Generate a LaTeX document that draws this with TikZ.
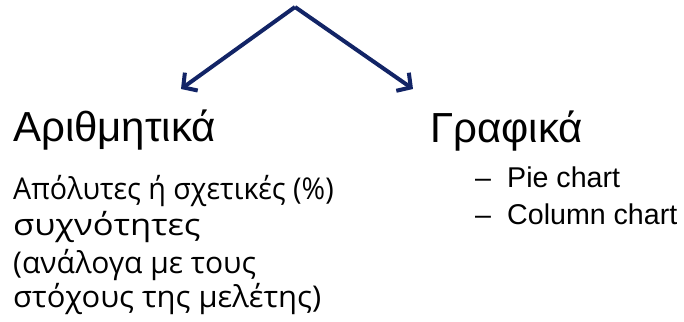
\documentclass[tikz,border=0pt]{standalone}
\usepackage{fontspec}
\setmainfont{Liberation Sans}
\newfontfamily\bodyfont{Open Sans}
\usetikzlibrary{arrows.meta}
\definecolor{navy}{RGB}{18,36,102}
\tikzset{
  link/.style={draw=navy, line width=4pt, line join=round,
    -{Straight Barb[length=10pt,width=22pt,line width=4pt]}},
  head/.style={anchor=base west, inner sep=0pt, font=\fontsize{42}{42}\selectfont},
  body/.style={anchor=base west, inner sep=0pt, font=\bodyfont\fontsize{30}{30}\selectfont},
  item/.style={anchor=base west, inner sep=0pt, font=\fontsize{28.6}{28.6}\selectfont},
}
\begin{document}
\begin{tikzpicture}[x=1pt,y=1pt]
\useasboundingbox (0,0) rectangle (684,321);
% split point and the two branch ends
\coordinate (top) at (295,314);
\coordinate (lt) at (181,232);
\coordinate (rt) at (413,232);
\draw[link] (top) -- (lt);
\draw[link] (top) -- (rt);
% left column: numeric summaries
\node[head] (num) at (13,179) {Αριθμητικά};
\node[body, xscale=0.955] (n1) at (13,121) {Απόλυτες ή σχετικές (\%)};
\node[body, xscale=1.15] (n2) at (13,85) {συχνότητες};
\node[body] (n3) at (13,48) {(ανάλογα με τους};
\node[body, xscale=1.03] (n4) at (13,14) {στόχους της μελέτης)};
% right column: graphical summaries
\node[head] (gr) at (430,178) {Γραφικά};
\node[item] (d1) at (475,133) {–};
\node[item] (p1) at (507,133) {Pie chart};
\node[item] (d2) at (475,96) {–};
\node[item] (p2) at (507,96) {Column chart};
\end{tikzpicture}
\end{document}
